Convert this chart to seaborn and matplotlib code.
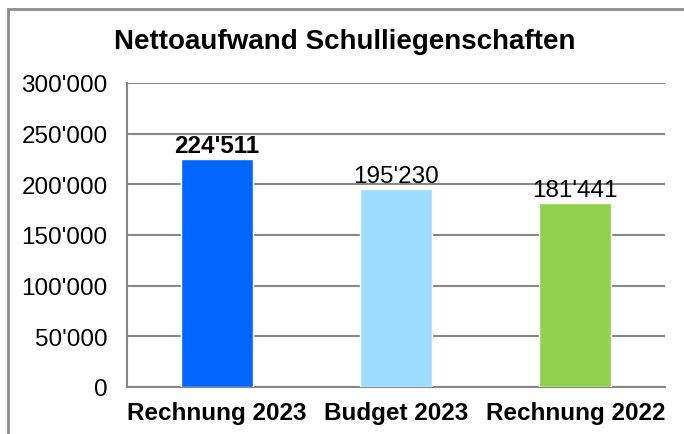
import matplotlib
matplotlib.use("Agg")
import matplotlib.pyplot as plt
import matplotlib.ticker as mticker
from matplotlib.patches import Rectangle
import seaborn as sns
import pandas as pd

categories = ["Rechnung 2023", "Budget 2023", "Rechnung 2022"]
values = [224511, 195230, 181441]
bar_colors = ["#0066FF", "#9DDBFF", "#92D050"]
title = "Nettoaufwand Schulliegenschaften"

sns.set_style("white")
plt.rcParams["font.family"] = ["Liberation Sans", "DejaVu Sans"]
plt.rcParams["text.color"] = "black"
plt.rcParams["xtick.color"] = "black"
plt.rcParams["ytick.color"] = "black"

def swiss(v, pos=None):
    return f"{v:,.0f}".replace(",", "'")

df = pd.DataFrame({"Kategorie": categories, "Wert": values})

fig = plt.figure(figsize=(6.84, 4.35), dpi=100)
ax = fig.add_axes([127 / 684, 1 - 388 / 435, (665 - 127) / 684, (388 - 84) / 435])

sns.barplot(data=df, x="Kategorie", y="Wert", hue="Kategorie",
            palette=bar_colors, width=0.4, saturation=1, legend=False, ax=ax, zorder=3)

grid_c = "#878787"
ax.set_ylim(0, 300000)
ax.set_xlim(-0.5, len(categories) - 0.5)
ax.yaxis.set_major_locator(mticker.MultipleLocator(50000))
ax.yaxis.set_major_formatter(mticker.FuncFormatter(swiss))
ax.grid(axis="y", color=grid_c, linewidth=1.5, zorder=0)
ax.set_axisbelow(True)
ax.set_xlabel("")
ax.set_ylabel("")

for s in ["top", "right"]:
    ax.spines[s].set_visible(False)
for s in ["left", "bottom"]:
    ax.spines[s].set_color(grid_c)
    ax.spines[s].set_linewidth(1.5)

ax.tick_params(axis="y", length=7, width=1.5, color=grid_c, labelcolor="black",
               labelsize=17.5, pad=7, direction="out")
ax.set_xticks([i - 0.5 for i in range(len(categories) + 1)], minor=True)
ax.tick_params(axis="x", which="minor", length=6, width=1.5, color=grid_c, direction="out")
ax.tick_params(axis="x", which="major", length=0, labelsize=17.5, labelcolor="black", pad=10)
for lbl in ax.get_xticklabels():
    lbl.set_fontweight("bold")

for i, v in enumerate(values):
    ax.text(i, v + 2500, swiss(v), ha="center", va="bottom", fontsize=17.5,
            fontweight="bold" if i == 0 else "normal", color="black")

fig.text(345 / 684, 1 - 42 / 435, title, ha="center", va="center",
         fontsize=20, fontweight="bold", color="black")

# figure border, cut off at right and bottom like the reference
fig.patches.append(Rectangle((8 / 684, -0.2), 1.2, 1.2 - 10 / 435,
                             transform=fig.transFigure, fill=False,
                             edgecolor="#8c8c8c", linewidth=2, clip_on=False))

fig.savefig("out.png", dpi=100)
